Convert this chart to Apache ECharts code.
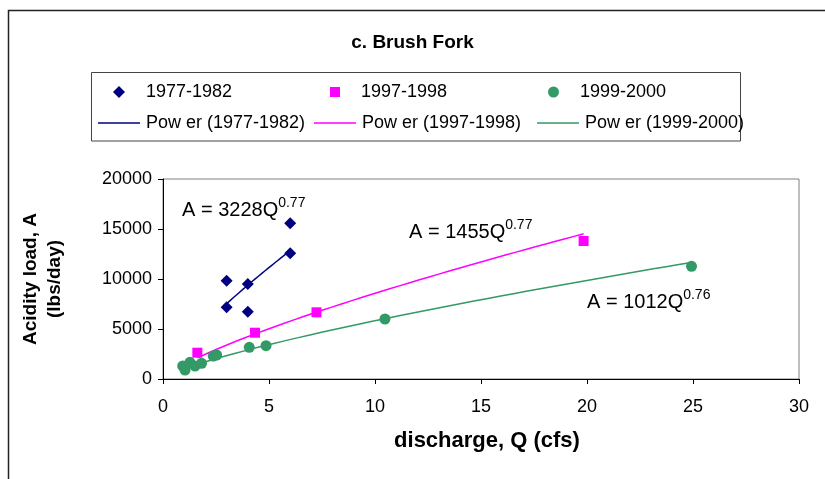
<!DOCTYPE html>
<html>
<head>
<meta charset="utf-8">
<script src="https://cdn.jsdelivr.net/npm/echarts@6/dist/echarts.min.js"></script>
<style>
html,body{margin:0;padding:0;background:#fff;}
#chart{width:825px;height:479px;}
</style>
</head>
<body>
<div id="chart"></div>
<script>
// ---- data ----
const seriesNames = ['1977-1982', '1997-1998', '1999-2000'];
const trendNames = ['Pow er (1977-1982)', 'Pow er (1997-1998)', 'Pow er (1999-2000)'];

const q1977 = [3, 3, 4, 4, 6, 6];
const a1977 = [9830, 7170, 9500, 6730, 15570, 12570];

const q1997 = [1.62, 4.34, 7.24, 19.84];
const a1997 = [2630, 4630, 6670, 13800];

const q1999 = [0.93, 1.04, 1.27, 1.51, 1.82, 2.37, 2.53, 4.07, 4.86, 10.47, 24.93];
const a1999 = [1300, 900, 1670, 1300, 1570, 2300, 2400, 3170, 3330, 6000, 11270];

// power-law fits as printed on the chart: A = c * Q^b
const fitCoef = [3228, 1455, 1012];
const fitExp = [0.77, 0.77, 0.76];

const xTicks = [0, 5, 10, 15, 20, 25, 30];
const yTicks = [0, 5000, 10000, 15000, 20000];

const colors = ['#000080', '#FF00FF', '#339966'];
const symbols = ['diamond', 'rect', 'circle'];
const symbolSizes = [12, 10, 11];

// ---- build ----
function pairs(qs, as) { return qs.map((q, i) => [q, as[i]]); }
function powerCurve(c, b, qs) {
  const lo = Math.min(...qs), hi = Math.max(...qs);
  const pts = [];
  const n = 40;
  for (let i = 0; i <= n; i++) {
    const q = lo + (hi - lo) * i / n;
    pts.push([q, c * Math.pow(q, b)]);
  }
  return pts;
}
const qs = [q1977, q1997, q1999];
const as = [a1977, a1997, a1999];

const FONT = '"Liberation Sans", Arial, sans-serif';

const series = [];
for (let k = 0; k < 3; k++) {
  series.push({
    name: trendNames[k], type: 'line', data: powerCurve(fitCoef[k], fitExp[k], qs[k]),
    symbol: 'none', lineStyle: { color: colors[k], width: 1.5 }, itemStyle: { color: colors[k] },
    silent: true, z: 2
  });
}
for (let k = 0; k < 3; k++) {
  series.push({
    name: seriesNames[k], type: 'scatter', data: pairs(qs[k], as[k]),
    symbol: symbols[k], symbolSize: symbolSizes[k], itemStyle: { color: colors[k], opacity: 1 }, z: 3
  });
}

function scatterLegend(k, left, top, w, h) {
  return {
    data: [seriesNames[k]], left: left, top: top, orient: 'horizontal',
    itemWidth: w, itemHeight: h, icon: symbols[k],
    textStyle: { fontFamily: FONT, fontSize: 18, color: '#000', padding: [0, 0, 0, 16] },
    selectedMode: false
  };
}
function lineLegend(k, left, top) {
  return {
    data: [{ name: trendNames[k], icon: 'rect' }], left: left, top: top, orient: 'horizontal',
    itemWidth: 42, itemHeight: 1.5,
    textStyle: { fontFamily: FONT, fontSize: 18, color: '#000', padding: [0, 0, 0, 1] },
    selectedMode: false
  };
}

function eq(k, x, y) {
  return {
    type: 'text', x: x, y: y, z: 100,
    style: {
      text: '{m|A = ' + fitCoef[k] + 'Q}{s|' + fitExp[k].toFixed(2) + '}',
      rich: {
        m: { fontFamily: FONT, fontSize: 20, lineHeight: 24, verticalAlign: 'bottom', fill: '#000' },
        s: { fontFamily: FONT, fontSize: 14, lineHeight: 14, verticalAlign: 'top', fill: '#000' }
      },
      verticalAlign: 'top', align: 'left'
    }
  };
}

const chart = echarts.init(document.getElementById('chart'), null, { renderer: 'canvas' });
chart.setOption({
  animation: false,
  backgroundColor: '#fff',
  title: {
    text: 'c. Brush Fork', left: 'center', top: 28,
    textStyle: { fontFamily: FONT, fontSize: 19, fontWeight: 'bold', color: '#000' }
  },
  legend: [
    scatterLegend(0, 108, 78, 12, 12),
    scatterLegend(1, 325, 78, 10, 10),
    scatterLegend(2, 543, 78, 11, 11),
    lineLegend(0, 93, 109),
    lineLegend(1, 309, 109),
    lineLegend(2, 532, 109)
  ],
  grid: { left: 163, right: 26, top: 179, bottom: 100, show: true, borderColor: '#808080', borderWidth: 1, backgroundColor: '#fff' },
  xAxis: {
    type: 'value', min: xTicks[0], max: xTicks[xTicks.length - 1], interval: xTicks[1] - xTicks[0],
    name: 'discharge, Q (cfs)', nameLocation: 'middle', nameGap: 51,
    nameTextStyle: { fontFamily: FONT, fontSize: 22, fontWeight: 'bold', color: '#000', padding: [0, 0, 0, 12] },
    axisLine: { onZero: false, lineStyle: { color: '#000', width: 1 } },
    axisTick: { show: true, inside: false, length: 5, lineStyle: { color: '#000' } },
    axisLabel: { fontFamily: FONT, fontSize: 18, color: '#000', margin: 19 },
    splitLine: { show: false }
  },
  yAxis: {
    type: 'value', min: yTicks[0], max: yTicks[yTicks.length - 1], interval: yTicks[1] - yTicks[0],
    name: 'Acidity load, A\n(lbs/day)', nameLocation: 'middle', nameGap: 96, nameRotate: 90,
    nameTextStyle: { fontFamily: FONT, fontSize: 19, fontWeight: 'bold', color: '#000', lineHeight: 24 },
    axisLine: { onZero: false, lineStyle: { color: '#000', width: 1 } },
    axisTick: { show: true, inside: false, length: 5, lineStyle: { color: '#000' } },
    axisLabel: { fontFamily: FONT, fontSize: 18, color: '#000', margin: 11, formatter: v => String(v) },
    splitLine: { show: false }
  },
  graphic: [
    { type: 'rect', shape: { x: 8.5, y: 10.5, width: 900, height: 600 }, style: { fill: 'none', stroke: '#222', lineWidth: 1.5 }, z: -10, silent: true },
    { type: 'rect', shape: { x: 91.5, y: 72.5, width: 649, height: 68.5 }, style: { fill: 'none', stroke: '#444', lineWidth: 1 }, z: -5, silent: true },
    eq(0, 182, 196),
    eq(1, 409, 218),
    eq(2, 587, 288)
  ],
  series: series
});
</script>
</body>
</html>
